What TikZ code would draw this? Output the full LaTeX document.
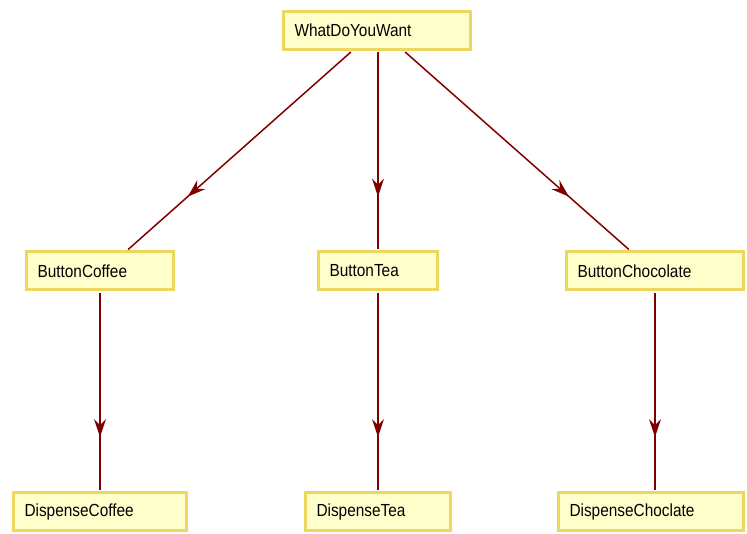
\documentclass[tikz,border=0pt]{standalone}
\usepackage{fontspec}
\setmainfont{Liberation Sans}[FakeStretch=0.88]
\usetikzlibrary{arrows.meta,decorations.markings}
\definecolor{boxfill}{HTML}{FFFFCC}
\definecolor{boxline}{HTML}{EED75E}
\definecolor{linkred}{HTML}{800000}
\begin{document}
\begin{tikzpicture}[x=1pt,y=-1pt,
    box/.style={draw=boxline, fill=boxfill, line width=3pt, inner xsep=11pt,
        minimum height=38pt, align=left, font=\fontsize{17.5}{20}\selectfont},
    link/.style={draw=linkred, line width=1.5pt, shorten <=1.5pt, shorten >=1.5pt,
        postaction={decorate}, decoration={markings,
        mark=at position 0.73 with {\arrow[linkred]{Stealth[length=18pt,width=12pt,inset=6pt]}}}}]
    \useasboundingbox (0,0) rectangle (747,534);
    \node [box, text width=165pt] (want) at (377,30.5) {WhatDoYouWant};
    \node [box, text width=125pt] (bcoffee) at (100,271) {ButtonCoffee};
    \node [box, text width=97pt] (btea) at (378,271) {ButtonTea};
    \node [box, text width=155pt] (bchoc) at (655,271) {ButtonChocolate};
    \node [box, text width=151pt] (dcoffee) at (100,511.5) {DispenseCoffee};
    \node [box, text width=123pt] (dtea) at (378,511.5) {DispenseTea};
    \node [box, text width=163pt] (dchoc) at (651,511.5) {DispenseChoclate};
    % links
    \draw [link] ([xshift=-25pt]want.south) -- ([xshift=27pt]bcoffee.north);
    \draw [link] (btea.north |- want.south) -- (btea.north);
    \draw [link] ([xshift=27pt]want.south) -- ([xshift=-25pt]bchoc.north);
    \draw [link] (bcoffee.south) -- (dcoffee.north);
    \draw [link] (btea.south) -- (dtea.north);
    \draw [link] (bchoc.south) -- (bchoc.south |- dchoc.north);
\end{tikzpicture}
\end{document}
